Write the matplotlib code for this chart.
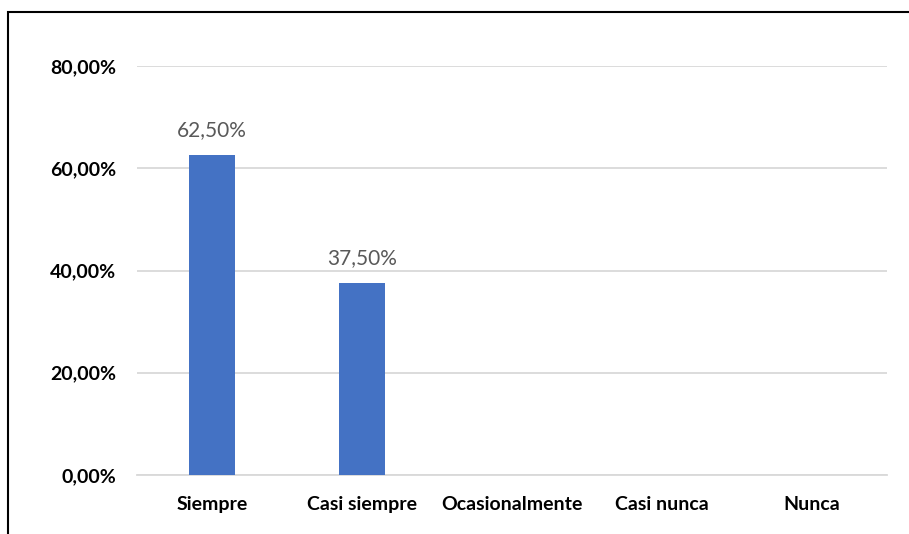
import numpy as np
import matplotlib.pyplot as plt
from matplotlib.patches import Rectangle
from matplotlib.ticker import FuncFormatter

categories = ["Siempre", "Casi siempre", "Ocasionalmente", "Casi nunca", "Nunca"]
values = [0.625, 0.375, 0.0, 0.0, 0.0]
yticks = [0.0, 0.2, 0.4, 0.6, 0.8]

plt.rcParams['font.family'] = ['Lato', 'DejaVu Sans']

fig = plt.figure(figsize=(9.09, 5.34), dpi=100)
ax = fig.add_axes([137/909, 1 - 475/534, 750/909, (475 - 66)/534])

x = np.arange(len(categories))
bars = ax.bar(x, values, width=0.31, color="#4472C4", zorder=3)

for xi, v in zip(x, values):
    if v > 0:
        ax.text(xi, v + 0.03, f"{v*100:.2f}%".replace(".", ","), ha="center", va="bottom",
                fontsize=15, color="#595959")

ax.set_xlim(-0.5, len(categories) - 0.5)
ax.set_ylim(0, 0.8)
ax.set_yticks(yticks)
ax.yaxis.set_major_formatter(FuncFormatter(lambda v, p: f"{v*100:.2f}%".replace(".", ",")))
ax.set_xticks(x)
ax.set_xticklabels(categories)
for lab in ax.get_xticklabels() + ax.get_yticklabels():
    lab.set_fontweight("bold")
    lab.set_fontsize(14)
    lab.set_color("black")

ax.grid(axis="y", color="#D9D9D9", linewidth=1.3, zorder=0)
for s in ["top", "right", "left"]:
    ax.spines[s].set_visible(False)
ax.spines["bottom"].set_color("#D9D9D9")
ax.spines["bottom"].set_linewidth(1.3)
ax.tick_params(axis="both", length=0)
ax.tick_params(axis="y", pad=15)
ax.tick_params(axis="x", pad=15)

# chart frame (right and bottom edges fall outside the picture)
fig.patches.append(Rectangle((8/909, -0.05), 1.1, 1 - 12/534 + 0.05, transform=fig.transFigure,
                             fill=False, edgecolor="black", linewidth=1.5))

fig.savefig("out.png", dpi=100)
